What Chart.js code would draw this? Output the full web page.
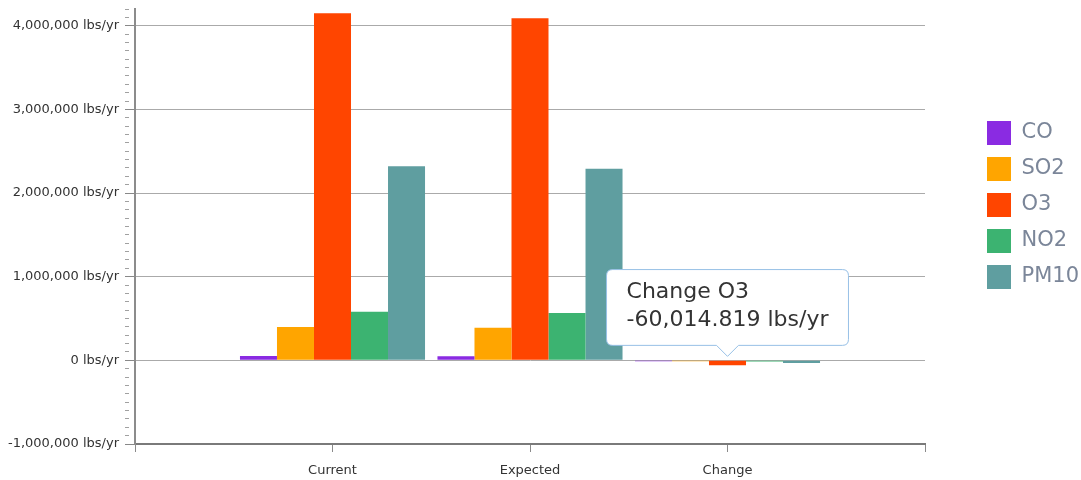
<!DOCTYPE html>
<html>
<head>
<meta charset="utf-8">
<script src="https://cdn.jsdelivr.net/npm/chart.js@4"></script>
<style>
  body { margin: 0; background: #fff; }
  #wrap { width: 1081px; height: 480px; }
</style>
</head>
<body>
<div id="wrap"><canvas id="emissionsChart"></canvas></div>
<script>
// categories on the x axis (empty slots at both ends, as in the original)
const categories = ['Current', 'Expected', 'Change'];

// lbs/yr per pollutant: [Current, Expected, Change]
const co   = [52000, 50000, -10000];
const so2  = [400000, 390000, -12000];
const o3   = [4150000, 4089985.181, -60014.819];
const no2  = [580000, 567000, -14000];
const pm10 = [2320000, 2290000, -32000];

const pollutants = ['CO', 'SO2', 'O3', 'NO2', 'PM10'];
const colors = ['#8a2be2', '#ffa500', '#ff4500', '#3cb371', '#5f9ea0'];

const fmt = v => v.toLocaleString('en-US', { maximumFractionDigits: 3 }) + ' lbs/yr';
const pad = arr => [null, ...arr, null];

Chart.defaults.font.family = 'DejaVu Sans';

// move the legend block up a bit (it sits above the middle in the original)
const legendShift = {
    id: 'legendShift',
    afterLayout(chart) {
        chart.legend.bottom = chart.legend.top + 392;
    }
};

const ctx = document.getElementById('emissionsChart').getContext('2d');
const chart = new Chart(ctx, {
    type: 'bar',
    data: {
        labels: ['', ...categories, ''],
        datasets: [co, so2, o3, no2, pm10].map((d, i) => ({
            label: pollutants[i],
            data: pad(d),
            backgroundColor: colors[i],
            borderWidth: 0,
            categoryPercentage: 0.937,
            barPercentage: 1.0
        }))
    },
    options: {
        responsive: true,
        maintainAspectRatio: false,
        animation: false,
        layout: { padding: { top: 9, left: 0, right: 0, bottom: 0 } },
        scales: {
            x: {
                offset: false,
                grid: {
                    offset: false,
                    drawOnChartArea: false,
                    tickLength: 8,
                    color: '#8a8a8a'
                },
                border: { color: '#7a7a7a', width: 2 },
                ticks: { color: '#333', font: { size: 13 }, padding: 11, autoSkip: false, maxRotation: 0 },
                afterFit: s => { s.height = 36; }
            },
            y: {
                min: -1000000,
                max: 4200000,
                grid: {
                    color: c => (c.tick && c.tick.value % 1000000 === 0) ? '#aaaaaa' : 'rgba(0,0,0,0)',
                    tickColor: c => (c.tick && c.tick.value % 1000000 === 0) ? '#888' : '#a0a0a0',
                    tickBorderDash: c => (c.tick && c.tick.value % 1000000 === 0) ? [] : [4, 40],
                    tickLength: 10
                },
                border: { color: '#8c8c8c', width: 2 },
                ticks: {
                    stepSize: 100000,
                    autoSkip: false,
                    color: '#333',
                    font: { size: 13 },
                    padding: 6,
                    callback: v => (v % 1000000 === 0) ? fmt(v) : ''
                },
                afterFit: s => { s.width = 135; s.paddingTop = 0; s.paddingBottom = 0; }
            },
            spacer: {
                type: 'linear',
                position: 'right',
                display: true,
                grid: { display: false },
                border: { display: false },
                ticks: { display: false },
                afterFit: s => { s.width = 50; s.paddingTop = 0; s.paddingBottom = 0; }
            }
        },
        plugins: {
            legend: {
                position: 'right',
                maxWidth: 106,
                labels: {
                    color: '#7b8699',
                    font: { size: 21 },
                    boxWidth: 24,
                    boxHeight: 24,
                    padding: 12
                }
            },
            tooltip: {
                animation: false,
                backgroundColor: '#ffffff',
                borderColor: '#97c0e6',
                borderWidth: 1,
                titleColor: '#333',
                bodyColor: '#333',
                titleFont: { size: 22, weight: 'normal' },
                bodyFont: { size: 22 },
                titleMarginBottom: 1,
                padding: { top: 10, bottom: 12, left: 20, right: 20 },
                cornerRadius: 6,
                caretSize: 11,
                caretPadding: 9,
                displayColors: false,
                xAlign: 'center',
                yAlign: 'bottom',
                callbacks: {
                    title: items => items[0].label + ' ' + items[0].dataset.label,
                    label: item => fmt(item.raw)
                }
            }
        }
    },
    plugins: [legendShift]
});

// show the hover box on the O3 "Change" bar
chart.tooltip.setActiveElements([{ datasetIndex: 2, index: 3 }], { x: 728, y: 362 });
chart.update();
</script>
</body>
</html>
